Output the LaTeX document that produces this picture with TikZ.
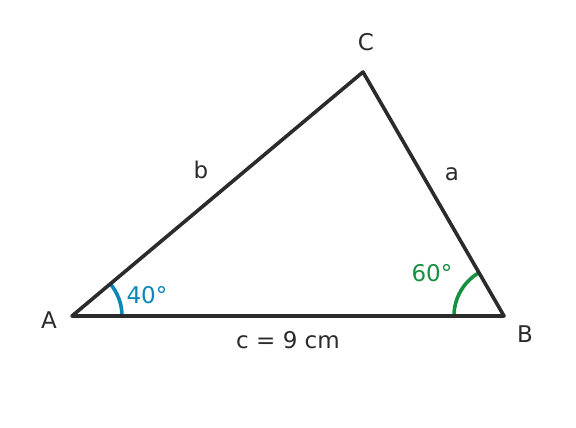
\documentclass[tikz,border=0pt]{standalone}
\usepackage{fontspec}
\setmainfont{DejaVu Sans}
\definecolor{ink}{HTML}{2B2B2B}
\definecolor{blueang}{HTML}{0A87B8}
\definecolor{greenang}{HTML}{16903F}
\begin{document}
\begin{tikzpicture}[x=1pt,y=-1pt,
  side/.style={draw=ink,line width=3.6pt,line join=round,line cap=round},
  lbl/.style={text=ink,font=\fontsize{23}{27}\selectfont,inner sep=0pt},
  anglbl/.style={font=\fontsize{23}{27}\selectfont,inner sep=0pt}]
\useasboundingbox (0,0) rectangle (576,428);
\coordinate (A) at (72,316);
\coordinate (B) at (504,316);
\coordinate (C) at (363,72);
\draw[blueang,line width=3.6pt] (122,316) arc[start angle=0,end angle=-40,radius=50];
\draw[greenang,line width=3.6pt] (454,316) arc[start angle=180,end angle=240,radius=50];
\draw[side] (A) -- (B) -- (C) -- cycle;
\node[lbl] (la) at (49,320) {A};
\node[lbl] (lb) at (525,334) {B};
\node[lbl] (lc) at (366,42) {C};
\node[lbl] (sb) at (201,170) {b};
\node[lbl] (sa) at (452,174) {a};
\node[lbl] (sc) at (288,340) {c = 9 cm};
\node[anglbl,text=blueang] (a40) at (147,295) {40°};
\node[anglbl,text=greenang] (a60) at (432,273) {60°};
\end{tikzpicture}
\end{document}
